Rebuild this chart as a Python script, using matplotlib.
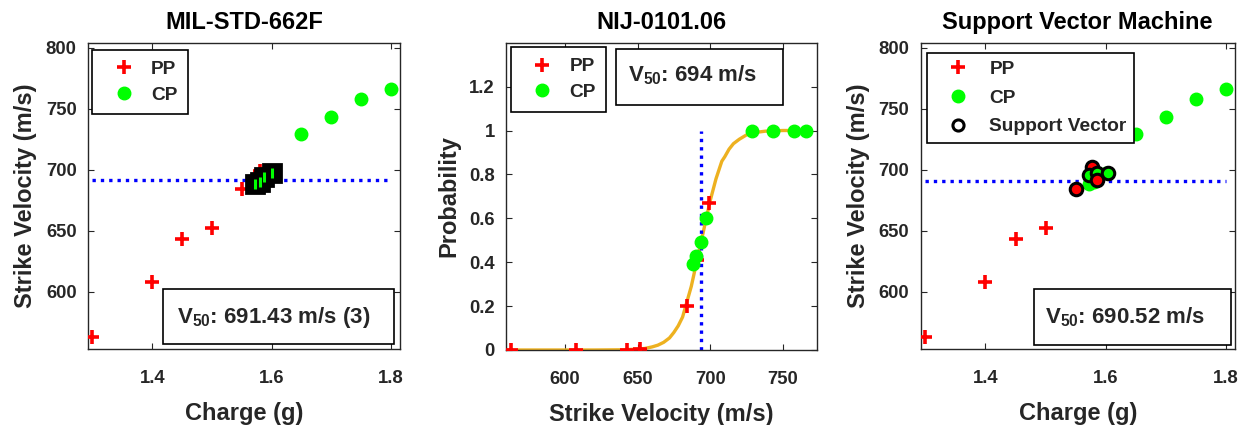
import numpy as np
import matplotlib
matplotlib.use("Agg")
import matplotlib.pyplot as plt
from matplotlib.patches import Rectangle

plt.rcParams['font.family'] = ['Liberation Sans', 'DejaVu Sans']
plt.rcParams['font.weight'] = 'bold'
plt.rcParams['mathtext.fontset'] = 'custom'
plt.rcParams['mathtext.rm'] = 'Liberation Sans:bold'
plt.rcParams['mathtext.it'] = 'Liberation Sans:bold'
plt.rcParams['mathtext.bf'] = 'Liberation Sans:bold'

# ---------------- data ----------------
titles = ["MIL-STD-662F", "NIJ-0101.06", "Support Vector Machine"]

pp_charge = [1.30, 1.40, 1.45, 1.50, 1.55, 1.58, 1.588]
pp_vel = [563, 608, 643, 652, 684, 699, 691]
pp_prob = [0.0, 0.0, 0.0, 0.003, 0.2, 0.67, 0.41]

cp_charge = [1.572, 1.58, 1.588, 1.60, 1.65, 1.70, 1.75, 1.80]
cp_vel = [688, 690, 694, 697, 729, 743, 758, 766]
cp_prob = [0.39, 0.43, 0.49, 0.6, 1.0, 1.0, 1.0, 1.0]

# points marked with squares (MIL-STD) and support vectors (SVM)
mil_sq_charge = [1.572, 1.58, 1.588, 1.60]
mil_sq_vel = [688, 690, 694, 697]
sv_charge = [1.55, 1.578, 1.572, 1.586, 1.586, 1.603]
sv_vel = [684, 702, 696, 697, 692, 697]
sv_cls = ['PP', 'PP', 'CP', 'CP', 'PP', 'CP']

# fitted probability curve
curve_vel = [560, 620, 640, 650, 655, 660, 664, 668, 672, 675, 678, 681, 684,
             687, 690, 692, 694, 696, 698, 700, 702, 704, 706, 708, 710, 713,
             716, 720, 725, 730, 738, 750, 766]
curve_prob = [0.0, 0.0, 0.001, 0.004, 0.007, 0.014, 0.022, 0.035, 0.055, 0.08,
              0.11, 0.15, 0.22, 0.29, 0.38, 0.44, 0.5, 0.56, 0.62, 0.68, 0.73,
              0.78, 0.82, 0.86, 0.88, 0.915, 0.94, 0.96, 0.98, 0.99, 0.997, 1.0, 1.0]

v50_mil = 691.43
v50_nij = 694
v50_svm = 690.52

# ---------------- style ----------------
RED = '#FF0000'
GREEN = '#00FF00'
BLUE = '#0000FF'
ORANGE = '#EDB120'
DARK = '#262626'
TICK_FS = 13.3
LAB_FS = 17
TITLE_FS = 17
LEG_FS = 13.8
BOX_FS = 16

fig = plt.figure(figsize=(12.48, 4.25), dpi=100)
H = 425.0
W = 1248.0

def make_ax(x0, x1, ytop, ybot):
    return fig.add_axes([x0 / W, 1 - ybot / H, (x1 - x0) / W, (ybot - ytop) / H])

ax1 = make_ax(87.7, 400, 42.7, 349.3)
ax2 = make_ax(506, 817, 42.7, 350)
ax3 = make_ax(920.5, 1235, 42.7, 349.3)

def style(ax, title, xlabel, ylabel):
    ax.set_title(title, fontsize=TITLE_FS, fontweight='bold', pad=10, color='black')
    ax.set_xlabel(xlabel, fontsize=LAB_FS, fontweight='bold', color=DARK, labelpad=11)
    ax.set_ylabel(ylabel, fontsize=LAB_FS, fontweight='bold', color=DARK, labelpad=6)
    ax.tick_params(direction='in', length=4, width=0.8, top=True, right=True,
                   labelsize=TICK_FS, colors=DARK)
    ax.tick_params(axis='x', pad=15)
    ax.tick_params(axis='y', pad=8)
    for lab in ax.get_xticklabels() + ax.get_yticklabels():
        lab.set_fontweight('bold')
    for s in ax.spines.values():
        s.set_color(DARK)
        s.set_linewidth(1.0)

def v50_box(ax, x0, x1, y0, y1, tx, ty, text):
    ax.add_patch(Rectangle((x0, y0), x1 - x0, y1 - y0, transform=ax.transAxes,
                           fill=True, facecolor='white', edgecolor='black',
                           linewidth=1.2, zorder=5))
    ax.text(tx, ty, text, transform=ax.transAxes, fontsize=BOX_FS,
            fontweight='bold', color=DARK, va='center', ha='left', zorder=6)

def legend(ax, handles, anchor, labelspacing, borderpad, hl, htp):
    lg = ax.legend(handles=handles, loc='upper left', bbox_to_anchor=anchor,
                   fontsize=LEG_FS, frameon=True, fancybox=False, edgecolor='black',
                   borderaxespad=0, handlelength=hl, handletextpad=htp,
                   labelspacing=labelspacing, borderpad=borderpad, labelcolor=DARK,
                   framealpha=1)
    lg.get_frame().set_linewidth(1.2)
    return lg

pp_kw = dict(linestyle='none', marker='+', markersize=10, markeredgewidth=2.6, color=RED)
cp_kw = dict(linestyle='none', marker='o', markersize=9, markerfacecolor=GREEN,
             markeredgecolor=GREEN, color=GREEN)

# ---------------- panel 1 ----------------
ax1.plot([min(pp_charge), max(cp_charge)], [v50_mil, v50_mil], color=BLUE,
         linestyle=':', linewidth=2.4, dashes=(1, 1.5), zorder=2)
h_pp, = ax1.plot(pp_charge, pp_vel, label='PP', zorder=3, **pp_kw)
h_cp, = ax1.plot(cp_charge, cp_vel, label='CP', zorder=3, **cp_kw)
ax1.plot(mil_sq_charge, mil_sq_vel, linestyle='none', marker='s', markersize=13,
         markerfacecolor='black', markeredgecolor='black', markeredgewidth=2, zorder=4)
ax1.plot(mil_sq_charge, mil_sq_vel, linestyle='none', marker='|', markersize=7,
         markeredgewidth=2.2, color=GREEN, zorder=4.5)
ax1.set_xlim(1.292, 1.815)
ax1.set_ylim(553, 804)
ax1.set_xticks([1.4, 1.6, 1.8])
ax1.set_yticks([600, 650, 700, 750, 800])
style(ax1, titles[0], 'Charge (g)', 'Strike Velocity (m/s)')
legend(ax1, [h_pp, h_cp], (0.015, 0.976), 0.44, 0.55, 2.15, 0.35)
v50_box(ax1, 0.242, 0.982, 0.016, 0.196, 0.285, 0.105, 'V$_{50}$: 691.43 m/s (3)')

# ---------------- panel 2 ----------------
ax2.plot(curve_vel, curve_prob, color=ORANGE, linewidth=2.4, zorder=2,
         solid_joinstyle='round')
ax2.plot([v50_nij, v50_nij], [0, 1], color=BLUE, linestyle=':', linewidth=2.4,
         dashes=(1, 1.5), zorder=2.5)
h_pp2, = ax2.plot(pp_vel, pp_prob, label='PP', zorder=3, **pp_kw)
h_cp2, = ax2.plot(cp_vel, cp_prob, label='CP', zorder=3.5, **cp_kw)
ax2.set_xlim(559.5, 773.5)
ax2.set_ylim(0, 1.4)
ax2.set_xticks([600, 650, 700, 750])
ax2.set_yticks([0, 0.2, 0.4, 0.6, 0.8, 1.0, 1.2])
ax2.set_yticklabels(['0', '0.2', '0.4', '0.6', '0.8', '1', '1.2'])
style(ax2, titles[1], 'Strike Velocity (m/s)', 'Probability')
legend(ax2, [h_pp2, h_cp2], (0.016, 0.985), 0.44, 0.55, 2.15, 0.35)
v50_box(ax2, 0.353, 0.892, 0.797, 0.98, 0.393, 0.895, 'V$_{50}$: 694 m/s')

# ---------------- panel 3 ----------------
ax3.plot([min(pp_charge), max(cp_charge)], [v50_svm, v50_svm], color=BLUE,
         linestyle=':', linewidth=2.4, dashes=(1, 1.5), zorder=2)
h_pp3, = ax3.plot(pp_charge, pp_vel, label='PP', zorder=3, **pp_kw)
h_cp3, = ax3.plot(cp_charge, cp_vel, label='CP', zorder=3, **cp_kw)
sv_face = [RED if c == 'PP' else GREEN for c in sv_cls]
for cx, cv, fc in zip(sv_charge, sv_vel, sv_face):
    ax3.plot([cx], [cv], linestyle='none', marker='o', markersize=9,
             markerfacecolor=fc, markeredgecolor='black', markeredgewidth=2.2, zorder=4)
h_sv, = ax3.plot([], [], linestyle='none', marker='o', markersize=8,
                 markerfacecolor='none', markeredgecolor='black', markeredgewidth=2.2,
                 label='Support Vector')
ax3.set_xlim(1.292, 1.815)
ax3.set_ylim(553, 804)
ax3.set_xticks([1.4, 1.6, 1.8])
ax3.set_yticks([600, 650, 700, 750, 800])
style(ax3, titles[2], 'Charge (g)', 'Strike Velocity (m/s)')
legend(ax3, [h_pp3, h_cp3, h_sv], (0.020, 0.968), 0.59, 0.41, 2.4, 0.45)
v50_box(ax3, 0.361, 0.986, 0.014, 0.198, 0.396, 0.105, 'V$_{50}$: 690.52 m/s')

fig.savefig('out.png', dpi=100)
